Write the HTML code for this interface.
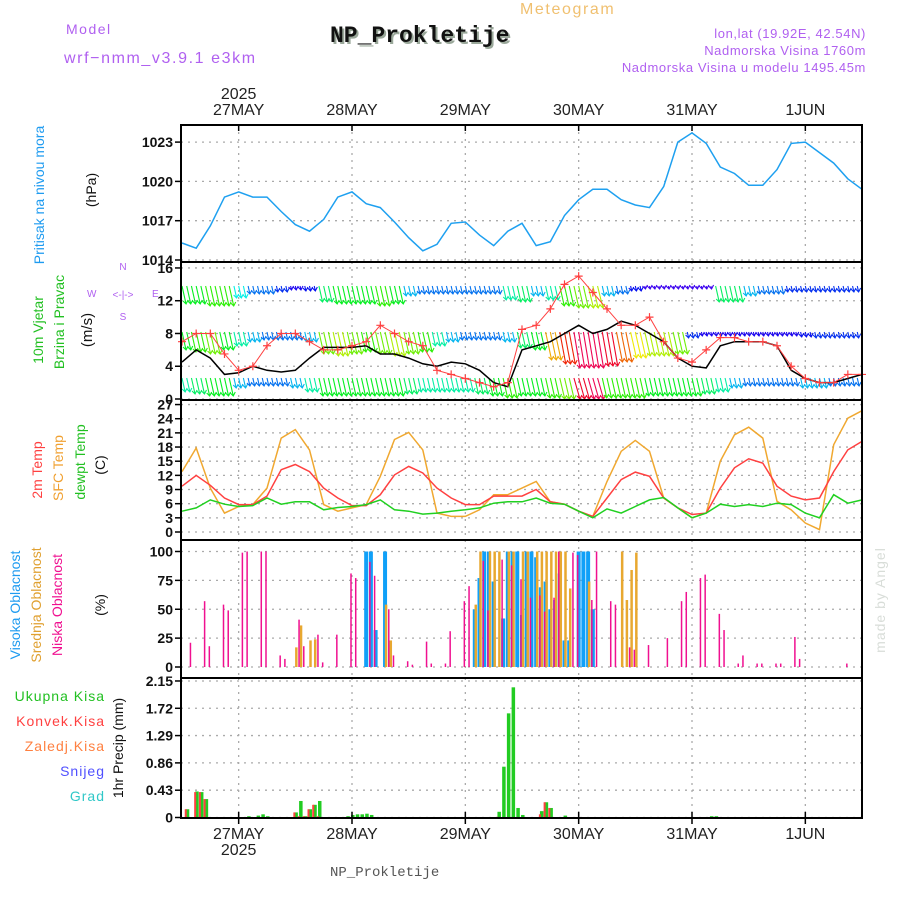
<!DOCTYPE html>
<html><head><meta charset="utf-8"><style>
body{margin:0;background:#fff}
svg{display:block;font-family:"Liberation Sans",sans-serif}
</style></head><body>
<svg id="c" width="900" height="900" viewBox="0 0 900 900" xmlns="http://www.w3.org/2000/svg">
<rect width="900" height="900" fill="#fff"/>
<g>
<text x="66" y="34" fill="#b060f0" font-size="14" letter-spacing="1.5">Model</text>
<text x="64" y="63" fill="#b060f0" font-size="16" letter-spacing="1.6">wrf−nmm_v3.9.1 e3km</text>
<text x="332" y="44" fill="#9aa89a" font-size="23" font-weight="bold" font-family="Liberation Mono,monospace">NP_Prokletije</text>
<text x="330" y="42" fill="#111" font-size="23" font-weight="bold" font-family="Liberation Mono,monospace">NP_Prokletije</text>
<text x="520" y="14" fill="#f0c070" font-size="16" letter-spacing="1.6">Meteogram</text>
<text x="866" y="38" fill="#b060f0" font-size="13" text-anchor="end" letter-spacing="0.6">lon,lat (19.92E, 42.54N)</text>
<text x="866" y="55" fill="#b060f0" font-size="13" text-anchor="end" letter-spacing="0.6">Nadmorska Visina 1760m</text>
<text x="866" y="72" fill="#b060f0" font-size="13" text-anchor="end" letter-spacing="0.6">Nadmorska Visina u modelu 1495.45m</text>
</g>
<g font-size="14">
<text transform="translate(44,195) rotate(-90)" text-anchor="middle" fill="#1e9bf0">Pritisak na nivou mora</text>
<text transform="translate(96,190) rotate(-90)" text-anchor="middle" fill="#111">(hPa)</text>
<text transform="translate(43,330) rotate(-90)" text-anchor="middle" fill="#22c022">10m Vjetar</text>
<text transform="translate(64,322) rotate(-90)" text-anchor="middle" fill="#22c022">Brzina i Pravac</text>
<text transform="translate(92,330) rotate(-90)" text-anchor="middle" fill="#111" font-size="15">(m/s)</text>
<g fill="#b060f0" font-size="10">
<text x="123" y="270" text-anchor="middle">N</text><text x="87" y="297">W</text><text x="152" y="297">E</text><text x="123" y="320" text-anchor="middle">S</text>
<text x="123" y="298" text-anchor="middle" font-size="10">&lt;-|-&gt;</text></g>
<text transform="translate(42,470) rotate(-90)" text-anchor="middle" fill="#ff4040">2m Temp</text>
<text transform="translate(63,468) rotate(-90)" text-anchor="middle" fill="#f0a030">SFC Temp</text>
<text transform="translate(85,462) rotate(-90)" text-anchor="middle" fill="#22c022">dewpt Temp</text>
<text transform="translate(105,465) rotate(-90)" text-anchor="middle" fill="#111">(C)</text>
<text transform="translate(20,605) rotate(-90)" text-anchor="middle" fill="#1e9bf0">Visoka Oblacnost</text>
<text transform="translate(41,605) rotate(-90)" text-anchor="middle" fill="#e0a030">Srednja Oblacnost</text>
<text transform="translate(62,605) rotate(-90)" text-anchor="middle" fill="#f01090">Niska Oblacnost</text>
<text transform="translate(105,605) rotate(-90)" text-anchor="middle" fill="#111">(%)</text>
<g font-size="14" text-anchor="end" letter-spacing="1">
<text x="105" y="701" fill="#22c022">Ukupna  Kisa</text>
<text x="105" y="726" fill="#ff4040">Konvek.Kisa</text>
<text x="105" y="751" fill="#ff8040">Zaledj.Kisa</text>
<text x="105" y="776" fill="#5050ff">Snijeg</text>
<text x="105" y="801" fill="#30c8c8">Grad</text></g>
<text transform="translate(123,748) rotate(-90)" text-anchor="middle" fill="#111">1hr Precip (mm)</text>
<text transform="translate(885,600) rotate(-90)" text-anchor="middle" fill="#d8ddd8" font-size="14" letter-spacing="1">made by Angel</text>
<text x="330" y="876" fill="#555" font-size="14" font-family="Liberation Mono,monospace">NP_Prokletije</text>
</g>
<g id="grid"></g><g id="marks"></g><g id="frame"></g>
</svg>
<script>
const dayLabels=["27MAY","28MAY","29MAY","30MAY","31MAY","1JUN"];
const pressure=[1015.3,1014.9,1016.6,1018.8,1019.2,1018.8,1018.8,1017.7,1016.7,1016.2,1017.1,1018.8,1019.2,1018.3,1018.0,1016.9,1015.7,1014.7,1015.2,1016.8,1016.9,1015.9,1015.1,1016.2,1016.8,1015.1,1015.4,1017.4,1018.6,1019.4,1019.4,1018.6,1018.2,1018.0,1019.6,1023.0,1023.7,1022.9,1021.1,1020.6,1019.7,1019.7,1020.9,1022.9,1023.0,1022.2,1021.4,1020.2,1019.4];
const windSpeed=[4.5,6,5,3,3.2,4,3.5,3.3,3.5,5,6.3,6.3,6.3,6.5,5.5,5.5,5,4.3,4,4.5,4.3,3.5,2,1.5,6,6.5,7,8,9,8,8.5,9.5,9,8,7,5,4,3.8,6.5,7,7,7,6.5,3.5,2.5,2,2,2.5,3];
const windGust=[7,8,8,5.5,3.5,4,6.5,8,8,7,6,6,6.5,7,9,8,7,6.5,3.5,3,2.5,2,1.5,2,8.5,9,11,14,15,13,11,9,9,10,7,5,4.5,6,7.5,7.5,7,7,6.5,4,2.5,2,2,3,3];
const windRow1=[9,9,10,10,6,4,4,3,2,2.5,8,9,9,9,10,9,5,4,4,4,4,4,4,7,8,5,7,10,11,12,5,4,2.5,1.5,1.5,1.5,1.5,1.5,8,8,5,4,4,3,3,3,3,3,3];
const windRow2=[9,10,11,9,7,5,4,4,4,5,11,12,11,10,11,12,11,10,7,5,4,4,4,5,8,9,14,16,18,18,17,15,13,12,12,11,3,2,2,2,2,2,2,2,2.5,3,3,3,3];
const windRow3=[7,8,9,9,5,4,4,4,5,7,9,9,9,9,9,9,8,7,7,7,7,8,9,10,9,9,10,11,17,18,10,10,10,9,9,9,9,8,7,5,4,4,4,4,5,5,4,4,4];
const temp2m=[9.7,12,9.9,7.2,5.8,5.8,7.6,13.2,14.3,12.8,9.3,7.2,5.6,5.6,7.9,12.1,13.9,12.5,9.3,7.2,5.8,5.8,7.6,7.6,7.6,9,6.4,5.9,4.4,3.3,7.2,11.1,12.7,11.8,7.2,5.1,3.7,4,9.3,13.6,15.5,14.6,9.7,7.6,6.8,7.2,12.8,17.4,19.2];
const tempSfc=[12.8,17.8,9.3,4,5.4,5.8,9.3,19.9,21.7,17.4,5.8,4.4,5.1,5.8,11.8,19.6,21.1,17.4,4,3.3,3.3,4.7,7.9,7.9,9.3,10.7,6.4,5.9,4.4,3.3,10.7,17.1,19.4,17.1,7.2,5.1,3,4,15,20.6,22.2,19.9,6.5,4.7,1.9,0.5,18.5,24.1,25.7];
const tempDew=[4.4,5.1,6.8,5.9,5.4,5.6,7.2,5.9,6.4,6.4,4.7,5.2,5.4,5.8,6.8,4.7,4.4,3.8,4,4.4,4.7,5.1,6.1,6.4,6.4,7.2,6.1,5.9,4.4,3,4.9,4,5.4,6.8,7.3,5.1,3,4,5.9,5.4,5.8,5.4,6.1,5.8,4,3,7.9,6.1,6.8];
const lowHours=[2,5,6,9,10,13,14,17,18,21,22,25,26,29,30,33,36,37,40,41,44,45,48,49,52,53,56,57,60,61,64,65,68,70,72,74,76,77,79,80,83,84,87,88,91,92,95,96,99,103,106,107,110,111,114,115,118,119,122,123,126,127,130,131,141];
const lowCloud=[21,57,18,54,49,99,100,100,100,10,7,41,18,28,4,28,81,77,91,79,50,10,5,2,22,3,3,31,57,70,92,49,93,88,76,60,62,48,60,100,99,97,58,100,57,54,17,15,19,25,57,65,77,80,46,32,3,10,3,3,3,3,26,7,3];
const midHours=[24,25,27,28,43,44,62,63,65,66,67,69,70,72,73,75,76,77,78,79,80,81,82,86,93,94,95,96];
const midCloud=[17,36,23,24,54,23,54,100,100,100,100,100,100,100,100,100,100,100,100,100,100,100,68,74,100,58,84,99];
const highHours=[39,40,41,43,62,63,64,65,66,68,69,70,71,72,73,74,75,76,77,78,79,80,81,82,84,85,86,87];
const highCloud=[100,100,32,100,50,77,100,100,74,42,100,100,100,45,100,100,95,69,74,50,58,81,23,23,100,100,100,50];
const precipHours=[1,3,4,5,14,16,17,18,24,25,26,27,28,29,35,36,37,38,39,40,67,68,69,70,71,72,76,77,78,81,112,113];
const precipTotal=[0.13,0.41,0.40,0.29,0.02,0.03,0.05,0.02,0.08,0.26,0.02,0.13,0.20,0.26,0.02,0.04,0.05,0.05,0.06,0.04,0.09,0.80,1.64,2.05,0.15,0.04,0.10,0.24,0.15,0.03,0.02,0.02];
const precipConv=[0.13,0.40,0.40,0.29,0,0,0,0,0.08,0.02,0.02,0.13,0.2,0.02,0,0,0,0,0,0,0.01,0,0,0,0,0,0.05,0.24,0.15,0,0,0];
const pressureTicks=[1014,1017,1020,1023];
const windTicks=[0,4,8,12,16];
const tempTicks=[0,3,6,9,12,15,18,21,24,27];
const cloudTicks=[0,25,50,75,100];
const precipTicks=[0,0.43,0.86,1.29,1.72,2.15];

const NS="http://www.w3.org/2000/svg";
const L=181,R=862;
const xH=h=>182+h*680/144;
const x3=i=>xH(i*3);
const yP=v=>260-(v-1014)*13.1;
const yW=v=>399-v*8.19;
const yT=v=>532-v*4.72;
const yC=v=>667-v*1.155;
const yR=v=>817.5-v*63.5;
function mk(par,tag,at){const e=document.createElementNS(NS,tag);for(const k in at)e.setAttribute(k,at[k]);document.getElementById(par).appendChild(e);return e;}
const panels=[[125,262,pressureTicks,yP,v=>v],[262,400,windTicks,yW,v=>v],[400,540,tempTicks,yT,v=>v],[540,678,cloudTicks,yC,v=>v],[678,818,precipTicks,yR,v=>v===0?"0":v.toFixed(2)]];
panels.forEach((p,pi)=>{
  p[2].forEach(t=>{const y=p[3](t);
    const g=mk("grid","line",{x1:L,x2:R,y1:y,y2:y,stroke:"#aaa","stroke-dasharray":"2,5","stroke-width":1.3});
    
    
    mk("frame","line",{x1:L-6,x2:L,y1:y,y2:y,stroke:"#000","stroke-width":1.5});
    const tx=mk("frame","text",{x:L-8,y:y+5,"text-anchor":"end","font-size":14,"font-weight":"bold",fill:"#111"});
    tx.textContent=p[4](t);
    
    
  });
  dayLabels.forEach((d,i)=>{const x=xH(12+24*i);
    const g=mk("grid","line",{x1:x,x2:x,y1:p[0],y2:p[1],stroke:"#aaa","stroke-dasharray":"2,5","stroke-width":1.3});
    
    
  });
  const fr=mk("frame","rect",{x:L,y:p[0],width:R-L,height:p[1]-p[0],fill:"none",stroke:"#000","stroke-width":2});
  
  
});
dayLabels.forEach((d,i)=>{const x=xH(12+24*i);
  mk("frame","line",{x1:x,x2:x,y1:125,y2:131,stroke:"#000","stroke-width":1.5});
  mk("frame","line",{x1:x,x2:x,y1:812,y2:824,stroke:"#000","stroke-width":1.5});
  const t=mk("frame","text",{x:x,y:115,"text-anchor":"middle","font-size":16,fill:"#222"});t.textContent=d;
  
  
  const b=mk("frame","text",{x:x,y:839,"text-anchor":"middle","font-size":16,fill:"#222"});b.textContent=d;
  
  
});
[[99],[855]].forEach(a=>{const t=mk("frame","text",{x:xH(12),y:a[0],"text-anchor":"middle","font-size":16,fill:"#222"});t.textContent="2025";
  
  });

function line(arr,yf,col,name,w){const d=arr.map((v,i)=>(i?"L":"M")+x3(i).toFixed(1)+","+yf(v).toFixed(1)).join("");
  const p=mk("marks","path",{d:d,fill:"none",stroke:col,"stroke-width":w||1.5});
  
  }
line(pressure,yP,"#1ea0f0","pressure-line");
function hue(s){return Math.max(-20,280-s*17);}
[[windRow1,286,22],[windRow2,332,40],[windRow3,378,21]].forEach((r,ri)=>{
  r[0].forEach((s,i)=>{[-1,0,1].forEach(o=>{
    const x=x3(i)+o*4.72; if(x<L+1||x>R-1)return;
    const len=Math.min(s*2,r[2]); const dx=Math.min(s*0.45,6);
    const col="hsl("+hue(s)+",95%,48%)";
    const x2=x+dx,y2=r[1]+len;
    const a=mk("marks","path",{d:`M${x},${r[1]}L${x2},${y2}M${x2-3},${y2-3}L${x2},${y2}L${x2+2},${y2-4}`,stroke:col,"stroke-width":1.1,fill:"none"});
    
    
  });});
});
line(windSpeed,yW,"#000","wind-speed-line");
line(windGust,yW,"#ff4040","wind-gust-line",1);
windGust.forEach((v,i)=>{const x=x3(i),y=yW(v);
  const m=mk("marks","path",{d:`M${x-4},${y}h8M${x},${y-4}v8`,stroke:"#ff4040","stroke-width":1.2});
  
  });
line(tempSfc,yT,"#f0a830","sfc-temp-line");
line(temp2m,yT,"#ff4040","temp-2m-line");
line(tempDew,yT,"#20d020","dewpoint-line");
function bars(hours,vals,yf,col,w,name,off){hours.forEach((h,i)=>{if(!vals[i])return;const x=xH(h)+(off||0),y=yf(vals[i]);
  const b=mk("marks","rect",{x:x-w/2,y:y,width:w,height:yf(0)-y,fill:col});
  
  });}
bars(highHours,highCloud,yC,"#10a0f8",4,"high-cloud-bar",0);
bars(midHours,midCloud,yC,"#e8a830",2.5,"mid-cloud-bar",1);
bars(lowHours,lowCloud,yC,"#f01090",1.5,"low-cloud-bar",-1);
bars(precipHours,precipTotal,yR,"#22cc22",3.5,"precip-total-bar",0.8);
bars(precipHours,precipConv,yR,"#ff4040",2,"precip-conv-bar",-1);
</script>
</body></html>
